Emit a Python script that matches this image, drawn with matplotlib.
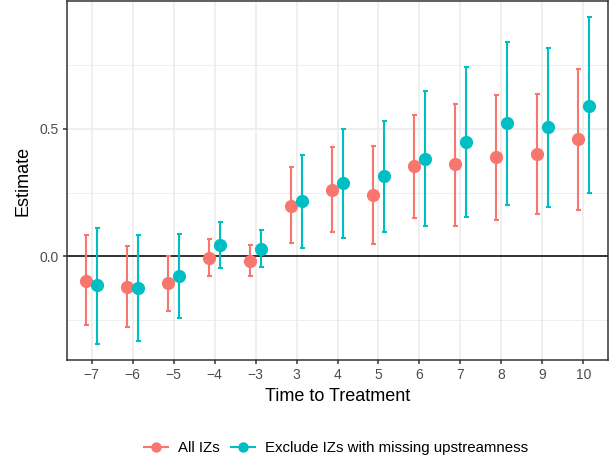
import matplotlib
matplotlib.use("Agg")
import matplotlib.pyplot as plt
from matplotlib.lines import Line2D
from matplotlib.ticker import FixedLocator
import numpy as np

plt.rcParams['font.family'] = ['Liberation Sans', 'DejaVu Sans']

periods = ["\u22127", "\u22126", "\u22125", "\u22124", "\u22123", "3", "4", "5", "6", "7", "8", "9", "10"]

all_est = [-0.094, -0.120, -0.104, -0.005, -0.018, 0.199, 0.259, 0.241, 0.353, 0.361, 0.388, 0.400, 0.458]
all_lo = [-0.267, -0.276, -0.214, -0.076, -0.078, 0.051, 0.094, 0.048, 0.152, 0.121, 0.141, 0.165, 0.181]
all_hi = [0.082, 0.042, 0.001, 0.068, 0.046, 0.349, 0.427, 0.431, 0.552, 0.596, 0.632, 0.634, 0.734]

excl_est = [-0.113, -0.124, -0.077, 0.044, 0.030, 0.215, 0.286, 0.313, 0.381, 0.448, 0.522, 0.505, 0.590]
excl_lo = [-0.341, -0.332, -0.241, -0.047, -0.042, 0.033, 0.074, 0.096, 0.118, 0.156, 0.203, 0.194, 0.247]
excl_hi = [0.113, 0.083, 0.087, 0.135, 0.103, 0.396, 0.497, 0.529, 0.645, 0.740, 0.840, 0.816, 0.935]

series_names = ["All IZs", "Exclude IZs with missing upstreamness"]
colors = ["#F8766D", "#00BFC4"]

fig = plt.figure(figsize=(6.10, 4.63), dpi=100)
ax = fig.add_axes([67 / 610, 1 - 360 / 463, 541 / 610, 359 / 463])

x = np.arange(len(periods))
offsets = [-0.125, 0.125]
series = [(all_est, all_lo, all_hi), (excl_est, excl_lo, excl_hi)]
for (est, lo, hi), off, col in zip(series, offsets, colors):
    est = np.array(est); lo = np.array(lo); hi = np.array(hi)
    ax.errorbar(x + off, est, yerr=[est - lo, hi - est], fmt='none',
                ecolor=col, elinewidth=1.5, capsize=1.8, capthick=1.5, zorder=3)
    ax.plot(x + off, est, 'o', color=col, markersize=9.5, markeredgewidth=0, zorder=4)

ax.axhline(0, color='black', linewidth=1.1, zorder=2)

ymin = min(min(all_lo), min(excl_lo))
ymax = max(max(all_hi), max(excl_hi))
pad = 0.05 * (ymax - ymin)
ax.set_ylim(ymin - pad, ymax + pad)
ax.set_xlim(-0.6, len(periods) - 0.4)

ax.set_xticks(x)
ax.set_xticklabels(periods)
ax.set_yticks([0.0, 0.5])
ax.set_yticklabels(["0.0", "0.5"])
ax.yaxis.set_minor_locator(FixedLocator([-0.25, 0.25, 0.75]))

ax.grid(True, which='major', color='#EBEBEB', linewidth=1.1, zorder=0)
ax.grid(True, which='minor', axis='y', color='#EBEBEB', linewidth=0.55, zorder=0)
ax.set_axisbelow(True)

for sp in ax.spines.values():
    sp.set_color('#333333')
    sp.set_linewidth(1.1)

ax.tick_params(axis='both', which='major', length=3, width=1.1, color='#333333',
               labelcolor='#4D4D4D', labelsize=10, pad=3)
ax.tick_params(axis='y', which='minor', length=0)

ax.set_xlabel("Time to Treatment", fontsize=13, labelpad=4)
ax.set_ylabel("Estimate", fontsize=13, labelpad=6)

handles = [Line2D([0], [0], color=c, marker='o', markersize=7.5, linewidth=1.5,
                  markeredgewidth=0) for c in colors]
fig.legend(handles, series_names, loc='center', bbox_to_anchor=(336 / 610, 1 - 448 / 463),
           ncol=2, frameon=False, fontsize=10.8, handlelength=1.6, handletextpad=0.7,
           columnspacing=0.7)

fig.savefig("out.png", dpi=100)
